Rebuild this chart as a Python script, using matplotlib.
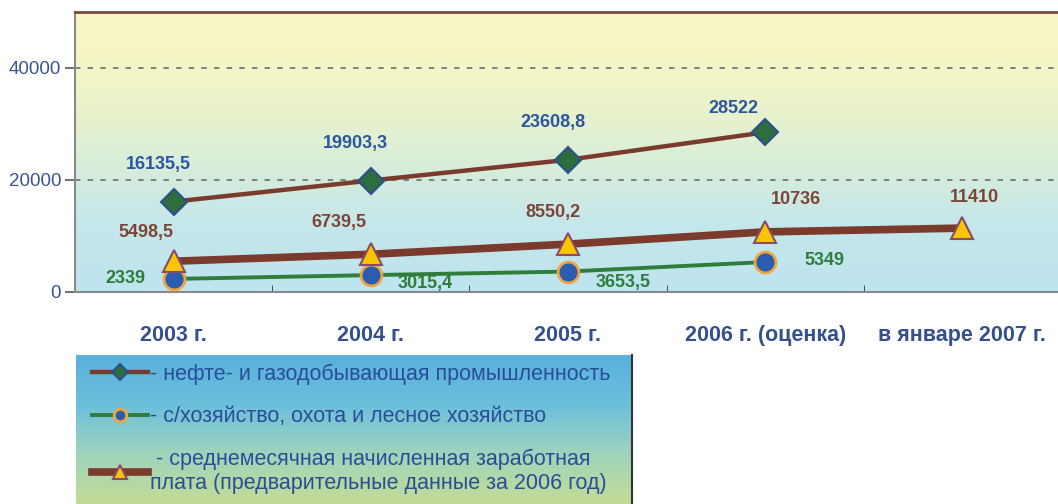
import numpy as np
import matplotlib
matplotlib.use("Agg")
import matplotlib.pyplot as plt
from matplotlib.colors import LinearSegmentedColormap

# Data
categories = ["2003 г.", "2004 г.", "2005 г.", "2006 г. (оценка)", "в январе 2007 г."]
oil_gas = [16135.5, 19903.3, 23608.8, 28522, np.nan]
agri = [2339, 3015.4, 3653.5, 5349, np.nan]
wage = [5498.5, 6739.5, 8550.2, 10736, 11410]

oil_labels = ["16135,5", "19903,3", "23608,8", "28522", ""]
agri_labels = ["2339", "3015,4", "3653,5", "5349", ""]
wage_labels = ["5498,5", "6739,5", "8550,2", "10736", "11410"]

legend_texts = [
    "- нефте- и газодобывающая промышленность",
    "- с/хозяйство, охота и лесное хозяйство",
    " - среднемесячная начисленная заработная\nплата (предварительные данные за 2006 год)",
]

plt.rcParams["font.family"] = ["Liberation Sans", "DejaVu Sans"]

brown = "#7a3a2c"
green = "#2e7d3a"

fig = plt.figure(figsize=(10.58, 5.04), dpi=100)
ax = fig.add_axes([75 / 1058, 212 / 504, 986 / 1058, 280 / 504])

# background gradient of the plot area
bg = LinearSegmentedColormap.from_list(
    "bg", ["#bde4f0", "#c6e7ea", "#dcefd6", "#f2f5c6", "#f9f7c6"]
)
grad = np.linspace(0, 1, 256).reshape(-1, 1)
ax.imshow(grad, cmap=bg, origin="lower", aspect="auto",
          extent=[-0.5, 4.5, 0, 50000], zorder=0)

x = np.arange(len(categories))

ax.plot(x, oil_gas, color=brown, lw=3.2, marker="D", ms=13,
        mfc="#2e6e3e", mec="#2c4f8f", mew=1.5, zorder=4,
        label=legend_texts[0])
ax.plot(x, agri, color=green, lw=2.8, marker="o", ms=15,
        mfc="#2a5cb0", mec="#f0a640", mew=2, zorder=4,
        label=legend_texts[1])
ax.plot(x, wage, color=brown, lw=5.5, marker="^", ms=16,
        mfc="#f7c600", mec="#8a4a6a", mew=1.5, zorder=5,
        label=legend_texts[2])

# value labels (offsets in points)
oil_offsets = [(-11, 27), (-11, 27), (-11, 27), (-23, 17)]
for i, t in enumerate(oil_labels):
    if t:
        ax.annotate(t, (x[i], oil_gas[i]), xytext=oil_offsets[i], textcoords="offset points",
                    ha="center", va="center", color="#2c56a0", fontsize=13,
                    fontweight="bold", zorder=6)
wage_offsets = [(-20, 21), (-23, 23), (-11, 23), (22, 23), (9, 22)]
for i, t in enumerate(wage_labels):
    if t:
        ax.annotate(t, (x[i], wage[i]), xytext=wage_offsets[i],
                    textcoords="offset points", ha="center", va="center",
                    color="#7b4538", fontsize=13, fontweight="bold", zorder=6)
agri_offsets = [(-35, 0), (39, -6), (40, -8), (43, 1)]
for i, t in enumerate(agri_labels):
    if t:
        ax.annotate(t, (x[i], agri[i]), xytext=agri_offsets[i],
                    textcoords="offset points", ha="center", va="center",
                    color=green, fontsize=13, fontweight="bold", zorder=6)

ax.set_xlim(-0.5, 4.5)
ax.set_ylim(0, 50000)
ax.set_yticks([0, 20000, 40000])
ax.set_yticklabels(["0", "20000", "40000"], fontsize=13.5, color="#3b5294")
ax.tick_params(axis="y", length=7, color="#555555", width=1.2, pad=3)
for yv in [20000, 40000]:
    ax.axhline(yv, color="#777777", lw=1.3, ls=(0, (3, 4)), zorder=1)

ax.set_xticks(x)
ax.set_xticklabels(categories, fontsize=15.5, fontweight="bold", color="#35508f")
ax.tick_params(axis="x", which="major", length=0, pad=24)
ax.set_xticks(x[:-1] + 0.5, minor=True)
ax.tick_params(axis="x", which="minor", direction="in", length=5, color="#333333")

ax.spines["right"].set_visible(False)
ax.spines["top"].set_color("#7a4a3a")
ax.spines["top"].set_linewidth(2)
ax.spines["left"].set_color("#8a8a8a")
ax.spines["bottom"].set_color("#8a8a8a")
ax.spines["left"].set_linewidth(1.5)
ax.spines["bottom"].set_linewidth(1.5)

# legend box with gradient
lax = fig.add_axes([76 / 1058, 0, 556 / 1058, 149 / 504])
lbg = LinearSegmentedColormap.from_list("lbg", ["#c4dc94", "#9fd4bc", "#6cbfdc", "#58b2dc"])
lax.imshow(grad, cmap=lbg, origin="lower", aspect="auto", extent=[0, 1, 0, 1])
lax.set_xticks([])
lax.set_yticks([])
for side in ["top", "bottom", "left"]:
    lax.spines[side].set_visible(False)
lax.spines["right"].set_color("#333333")
lax.spines["right"].set_linewidth(1.5)

handles, labels = ax.get_legend_handles_labels()
leg = fig.legend(handles, labels, loc="upper left",
                 bbox_to_anchor=(88 / 1058, 1 - 359 / 504), frameon=False,
                 fontsize=15.5, labelcolor="#2a4d9a", handlelength=2.6,
                 handletextpad=0.1, labelspacing=1.0, markerscale=0.6,
                 borderaxespad=0, borderpad=0.2)

fig.savefig("out.png", dpi=100)
